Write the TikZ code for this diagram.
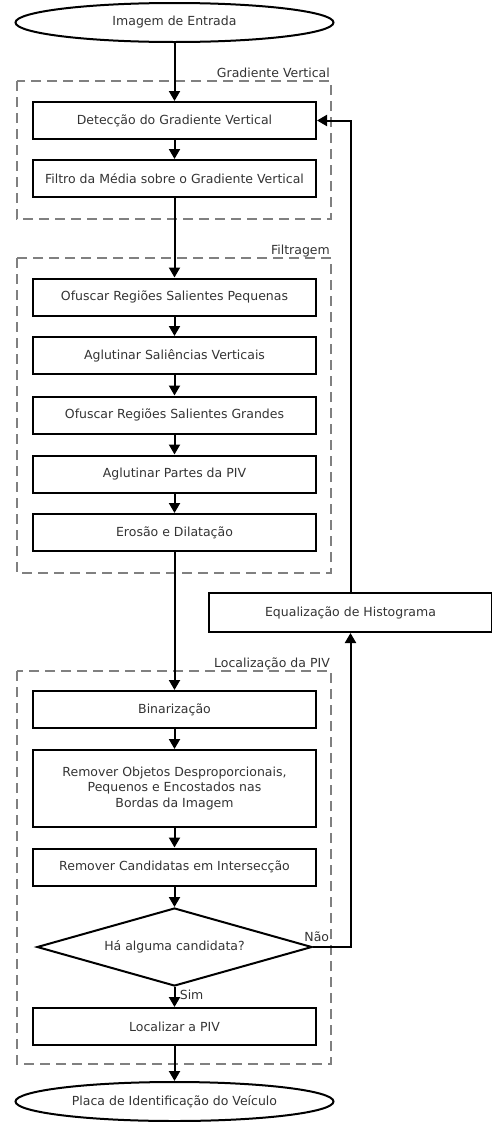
\documentclass[tikz,border=0pt]{standalone}
\usepackage{fontspec}
\setmainfont{DejaVu Sans}
\usetikzlibrary{shapes.geometric,arrows.meta}
\definecolor{txt}{HTML}{333333}
\begin{document}
\begin{tikzpicture}[x=1pt,y=-1pt,
  font=\fontsize{12.5}{15.5}\selectfont, text=txt,
  stepbox/.style={draw=black, line width=2pt, minimum width=283pt, minimum height=37pt, inner sep=0pt, align=center},
  term/.style={draw=black, ellipse, line width=2pt, minimum width=318pt, minimum height=39pt, inner sep=0pt},
  decis/.style={draw=black, diamond, aspect=3.5, line width=2pt, minimum width=275pt, minimum height=78pt, inner sep=0pt},
  group/.style={draw=gray, line width=1.8pt, dash pattern=on 10pt off 6pt},
  glabel/.style={anchor=base east, inner sep=0pt},
  arr/.style={line width=2pt, -{Triangle[length=10pt,width=11pt]}}
]
\useasboundingbox (0,0) rectangle (492,1122);
% groups
\draw[group] (17,81) rectangle (331,219);
\node[glabel] (g1) at (330,77) {Gradiente Vertical};
\draw[group] (17,258) rectangle (331,573);
\node[glabel] (g2) at (330,254) {Filtragem};
\draw[group] (17,671) rectangle (331,1064);
\node[glabel] (g3) at (330,667) {Localização da PIV};
% nodes
\node[term] (in) at (174.5,22.5) {Imagem de Entrada};
\node[stepbox] (b1) at (174.5,120.5) {Detecção do Gradiente Vertical};
\node[stepbox] (b2) at (174.5,178.5) {Filtro da Média sobre o Gradiente Vertical};
\node[stepbox] (f1) at (174.5,297) {Ofuscar Regiões Salientes Pequenas};
\node[stepbox] (f2) at (174.5,355.5) {Aglutinar Saliências Verticais};
\node[stepbox] (f3) at (174.5,415) {Ofuscar Regiões Salientes Grandes};
\node[stepbox] (f4) at (174.5,474) {Aglutinar Partes da PIV};
\node[stepbox] (f5) at (174.5,532.5) {Erosão e Dilatação};
\node[stepbox, minimum width=283pt, minimum height=39pt] (eq) at (350.5,612.5) {Equalização de Histograma};
\node[stepbox] (l1) at (174.5,709.5) {Binarização};
\node[stepbox, minimum height=77pt] (l2) at (174.5,788.5) {Remover Objetos Desproporcionais,\\Pequenos e Encostados nas\\Bordas da Imagem};
\node[stepbox] (l3) at (174.5,867) {Remover Candidatas em Intersecção};
\node[decis] (d) at (174.5,947) {Há alguma candidata?};
\node[stepbox] (l4) at (174.5,1026.5) {Localizar a PIV};
\node[term] (out) at (174.5,1101.5) {Placa de Identificação do Veículo};
% connectors
\draw[arr] (in) -- (b1);
\draw[arr] (b1) -- (b2);
\draw[arr] (b2) -- (f1);
\draw[arr] (f1) -- (f2);
\draw[arr] (f2) -- (f3);
\draw[arr] (f3) -- (f4);
\draw[arr] (f4) -- (f5);
\draw[arr] (f5) -- (l1);
\draw[arr] (l1) -- (l2);
\draw[arr] (l2) -- (l3);
\draw[arr] (l3) -- (d);
\draw[arr] (d) -- node[right=1pt, pos=0.4] {Sim} (l4);
\draw[arr] (d.east) -- node[pos=0.1, above=1pt] {Não} (d.east -| eq) -- (eq);
\draw[arr] (eq) -- (eq |- b1) -- (b1);
\draw[arr] (l4) -- (out);
\end{tikzpicture}
\end{document}
